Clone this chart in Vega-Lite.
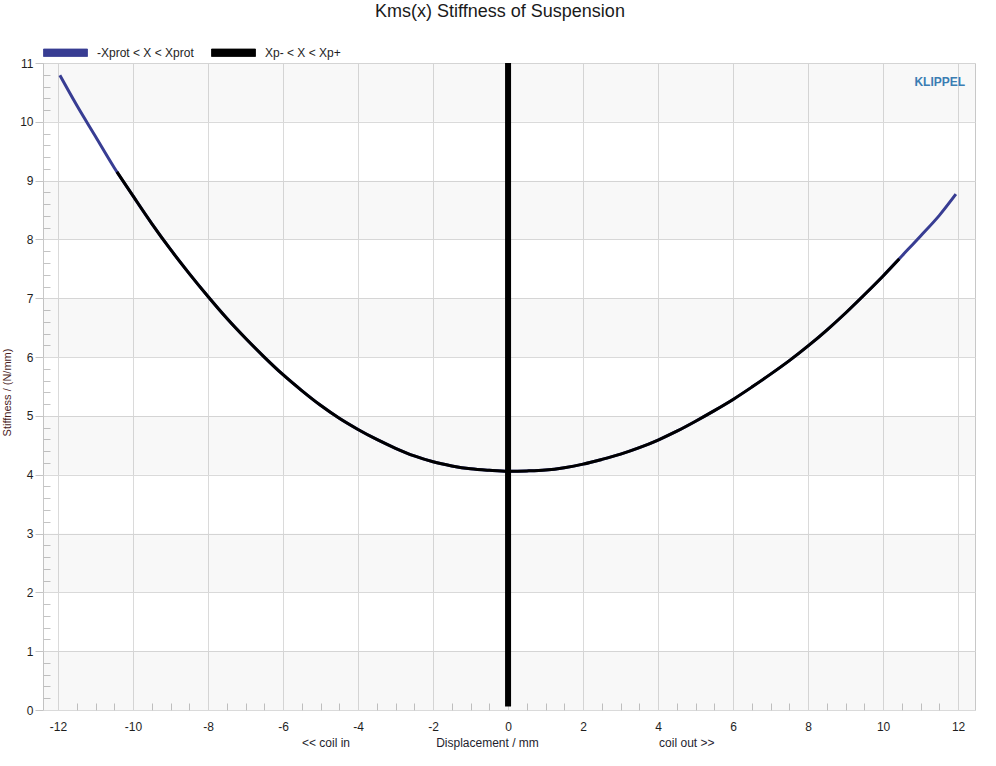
{
  "$schema": "https://vega.github.io/schema/vega-lite/v6.json",
  "width": 932,
  "height": 647,
  "autosize": {"type": "none"},
  "padding": {"left": 43, "top": 63, "right": 21, "bottom": 56},
  "background": "white",
  "title": {
    "text": "Kms(x) Stiffness of Suspension",
    "fontSize": 18,
    "fontWeight": "normal",
    "font": "Liberation Sans",
    "color": "#1a1a1a",
    "anchor": "middle",
    "dx": -9,
    "offset": -5,
    "baseline": "alphabetic"
  },
  "datasets": {
    "bands": [
      {"lo": 0, "hi": 1}, {"lo": 2, "hi": 3}, {"lo": 4, "hi": 5},
      {"lo": 6, "hi": 7}, {"lo": 8, "hi": 9}, {"lo": 10, "hi": 11}
    ],
    "blue": [
      {"x": -11.95, "y": 10.79, "series": "-Xprot < X < Xprot"},
      {"x": -11.5, "y": 10.28, "series": "-Xprot < X < Xprot"},
      {"x": -11, "y": 9.75, "series": "-Xprot < X < Xprot"},
      {"x": -10.5, "y": 9.22, "series": "-Xprot < X < Xprot"},
      {"x": -10, "y": 8.74, "series": "-Xprot < X < Xprot"},
      {"x": -9.5, "y": 8.27, "series": "-Xprot < X < Xprot"},
      {"x": -9, "y": 7.83, "series": "-Xprot < X < Xprot"},
      {"x": -8.5, "y": 7.42, "series": "-Xprot < X < Xprot"},
      {"x": -8, "y": 7.03, "series": "-Xprot < X < Xprot"},
      {"x": -7.5, "y": 6.66, "series": "-Xprot < X < Xprot"},
      {"x": -7, "y": 6.32, "series": "-Xprot < X < Xprot"},
      {"x": -6.5, "y": 6.00, "series": "-Xprot < X < Xprot"},
      {"x": -6, "y": 5.70, "series": "-Xprot < X < Xprot"},
      {"x": -5.5, "y": 5.43, "series": "-Xprot < X < Xprot"},
      {"x": -5, "y": 5.18, "series": "-Xprot < X < Xprot"},
      {"x": -4.5, "y": 4.96, "series": "-Xprot < X < Xprot"},
      {"x": -4, "y": 4.77, "series": "-Xprot < X < Xprot"},
      {"x": -3.5, "y": 4.60, "series": "-Xprot < X < Xprot"},
      {"x": -3, "y": 4.45, "series": "-Xprot < X < Xprot"},
      {"x": -2.5, "y": 4.32, "series": "-Xprot < X < Xprot"},
      {"x": -2, "y": 4.22, "series": "-Xprot < X < Xprot"},
      {"x": -1.5, "y": 4.15, "series": "-Xprot < X < Xprot"},
      {"x": -1, "y": 4.10, "series": "-Xprot < X < Xprot"},
      {"x": -0.5, "y": 4.075, "series": "-Xprot < X < Xprot"},
      {"x": 0, "y": 4.06, "series": "-Xprot < X < Xprot"},
      {"x": 0.5, "y": 4.065, "series": "-Xprot < X < Xprot"},
      {"x": 1, "y": 4.08, "series": "-Xprot < X < Xprot"},
      {"x": 1.5, "y": 4.12, "series": "-Xprot < X < Xprot"},
      {"x": 2, "y": 4.18, "series": "-Xprot < X < Xprot"},
      {"x": 2.5, "y": 4.26, "series": "-Xprot < X < Xprot"},
      {"x": 3, "y": 4.35, "series": "-Xprot < X < Xprot"},
      {"x": 3.5, "y": 4.46, "series": "-Xprot < X < Xprot"},
      {"x": 4, "y": 4.59, "series": "-Xprot < X < Xprot"},
      {"x": 4.5, "y": 4.74, "series": "-Xprot < X < Xprot"},
      {"x": 5, "y": 4.91, "series": "-Xprot < X < Xprot"},
      {"x": 5.5, "y": 5.09, "series": "-Xprot < X < Xprot"},
      {"x": 6, "y": 5.28, "series": "-Xprot < X < Xprot"},
      {"x": 6.5, "y": 5.49, "series": "-Xprot < X < Xprot"},
      {"x": 7, "y": 5.71, "series": "-Xprot < X < Xprot"},
      {"x": 7.5, "y": 5.94, "series": "-Xprot < X < Xprot"},
      {"x": 8, "y": 6.19, "series": "-Xprot < X < Xprot"},
      {"x": 8.5, "y": 6.46, "series": "-Xprot < X < Xprot"},
      {"x": 9, "y": 6.75, "series": "-Xprot < X < Xprot"},
      {"x": 9.5, "y": 7.06, "series": "-Xprot < X < Xprot"},
      {"x": 10, "y": 7.38, "series": "-Xprot < X < Xprot"},
      {"x": 10.5, "y": 7.72, "series": "-Xprot < X < Xprot"},
      {"x": 11, "y": 8.06, "series": "-Xprot < X < Xprot"},
      {"x": 11.5, "y": 8.41, "series": "-Xprot < X < Xprot"},
      {"x": 11.94, "y": 8.77, "series": "-Xprot < X < Xprot"}
    ],
    "black": [
      {"x": -10.43, "y": 9.15, "series": "Xp- < X < Xp+"},
      {"x": -10, "y": 8.74, "series": "Xp- < X < Xp+"},
      {"x": -9.5, "y": 8.27, "series": "Xp- < X < Xp+"},
      {"x": -9, "y": 7.83, "series": "Xp- < X < Xp+"},
      {"x": -8.5, "y": 7.42, "series": "Xp- < X < Xp+"},
      {"x": -8, "y": 7.03, "series": "Xp- < X < Xp+"},
      {"x": -7.5, "y": 6.66, "series": "Xp- < X < Xp+"},
      {"x": -7, "y": 6.32, "series": "Xp- < X < Xp+"},
      {"x": -6.5, "y": 6.00, "series": "Xp- < X < Xp+"},
      {"x": -6, "y": 5.70, "series": "Xp- < X < Xp+"},
      {"x": -5.5, "y": 5.43, "series": "Xp- < X < Xp+"},
      {"x": -5, "y": 5.18, "series": "Xp- < X < Xp+"},
      {"x": -4.5, "y": 4.96, "series": "Xp- < X < Xp+"},
      {"x": -4, "y": 4.77, "series": "Xp- < X < Xp+"},
      {"x": -3.5, "y": 4.60, "series": "Xp- < X < Xp+"},
      {"x": -3, "y": 4.45, "series": "Xp- < X < Xp+"},
      {"x": -2.5, "y": 4.32, "series": "Xp- < X < Xp+"},
      {"x": -2, "y": 4.22, "series": "Xp- < X < Xp+"},
      {"x": -1.5, "y": 4.15, "series": "Xp- < X < Xp+"},
      {"x": -1, "y": 4.10, "series": "Xp- < X < Xp+"},
      {"x": -0.5, "y": 4.075, "series": "Xp- < X < Xp+"},
      {"x": 0, "y": 4.06, "series": "Xp- < X < Xp+"},
      {"x": 0.5, "y": 4.065, "series": "Xp- < X < Xp+"},
      {"x": 1, "y": 4.08, "series": "Xp- < X < Xp+"},
      {"x": 1.5, "y": 4.12, "series": "Xp- < X < Xp+"},
      {"x": 2, "y": 4.18, "series": "Xp- < X < Xp+"},
      {"x": 2.5, "y": 4.26, "series": "Xp- < X < Xp+"},
      {"x": 3, "y": 4.35, "series": "Xp- < X < Xp+"},
      {"x": 3.5, "y": 4.46, "series": "Xp- < X < Xp+"},
      {"x": 4, "y": 4.59, "series": "Xp- < X < Xp+"},
      {"x": 4.5, "y": 4.74, "series": "Xp- < X < Xp+"},
      {"x": 5, "y": 4.91, "series": "Xp- < X < Xp+"},
      {"x": 5.5, "y": 5.09, "series": "Xp- < X < Xp+"},
      {"x": 6, "y": 5.28, "series": "Xp- < X < Xp+"},
      {"x": 6.5, "y": 5.49, "series": "Xp- < X < Xp+"},
      {"x": 7, "y": 5.71, "series": "Xp- < X < Xp+"},
      {"x": 7.5, "y": 5.94, "series": "Xp- < X < Xp+"},
      {"x": 8, "y": 6.19, "series": "Xp- < X < Xp+"},
      {"x": 8.5, "y": 6.46, "series": "Xp- < X < Xp+"},
      {"x": 9, "y": 6.75, "series": "Xp- < X < Xp+"},
      {"x": 9.5, "y": 7.06, "series": "Xp- < X < Xp+"},
      {"x": 10, "y": 7.38, "series": "Xp- < X < Xp+"},
      {"x": 10.43, "y": 7.67, "series": "Xp- < X < Xp+"}
    ],
    "vrule": [{"x": 0, "y": 0.06, "y2": 11}],
    "logo": [{"x": 11.51, "y": 10.67, "t": "KLIPPEL"}]
  },
  "layer": [
    {
      "data": {"name": "bands"},
      "mark": {"type": "rect", "fill": "#000000", "fillOpacity": 0.026},
      "encoding": {
        "y": {
          "field": "lo", "type": "quantitative",
          "scale": {"domain": [0, 11], "nice": false, "zero": false},
          "axis": {
            "orient": "left", "labels": false, "grid": false, "domain": false,
            "ticks": true, "tickSize": -7, "tickColor": "#c4c4c4", "title": null,
            "values": [0.2,0.4,0.6,0.8,1.2,1.4,1.6,1.8,2.2,2.4,2.6,2.8,3.2,3.4,3.6,3.8,4.2,4.4,4.6,4.8,5.2,5.4,5.6,5.8,6.2,6.4,6.6,6.8,7.2,7.4,7.6,7.8,8.2,8.4,8.6,8.8,9.2,9.4,9.6,9.8,10.2,10.4,10.6,10.8]
          }
        },
        "y2": {"field": "hi"}
      }
    },
    {
      "data": {"name": "blue"},
      "mark": {"type": "line", "strokeWidth": 3, "interpolate": "monotone"},
      "encoding": {
        "x": {
          "field": "x", "type": "quantitative",
          "scale": {"domain": [-12.4, 12.45], "nice": false, "zero": false},
          "axis": {
            "orient": "bottom",
            "values": [-12,-10,-8,-6,-4,-2,0,2,4,6,8,10,12],
            "grid": true, "gridColor": "#dadada", "gridWidth": 1,
            "ticks": false, "tickSize": 0, "domain": false,
            "labelPadding": 11, "labelFontSize": 12, "labelColor": "#1e1e1e",
            "labelExpr": "'' + datum.value",
            "title": "Displacement / mm", "titleX": 444, "titleY": 32,
            "titleAlign": "center", "titleBaseline": "middle",
            "titleFontSize": 12, "titleFontWeight": "normal", "titleColor": "#1e1e2e"
          }
        },
        "y": {
          "field": "y", "type": "quantitative",
          "scale": {"domain": [0, 11], "nice": false, "zero": false},
          "axis": {
            "orient": "left",
            "values": [0,1,2,3,4,5,6,7,8,9,10,11],
            "grid": true, "gridColor": "#dadada", "gridWidth": 1,
            "ticks": true, "tickSize": 8, "tickColor": "#c4c4c4", "domain": false,
            "labelPadding": 2, "labelFontSize": 12, "labelColor": "#1e1e1e",
            "labelExpr": "'' + datum.value",
            "title": "Stiffness / (N/mm)", "titleX": -36, "titleY": 329,
            "titleAngle": -90, "titleAlign": "center", "titleBaseline": "middle",
            "titleFontSize": 11, "titleFontWeight": "normal", "titleColor": "#4a1c1c"
          }
        },
        "color": {
          "field": "series", "type": "nominal",
          "scale": {"domain": ["-Xprot < X < Xprot", "Xp- < X < Xp+"], "range": ["#383d93", "#000000"]},
          "legend": {
            "title": null,
            "encode": {
              "symbols": {
                "update": {
                  "fill": {"scale": "color", "field": "value"},
                  "stroke": {"value": "#a0a0a0"},
                  "strokeWidth": {"value": 0.8},
                  "opacity": {"value": 1}
                }
              }
            }
          }
        }
      }
    },
    {
      "data": {"name": "black"},
      "mark": {"type": "line", "strokeWidth": 3, "interpolate": "monotone"},
      "encoding": {
        "x": {
          "field": "x", "type": "quantitative",
          "axis": {
            "orient": "bottom", "labels": false, "ticks": false, "grid": false, "domain": false,
            "title": "<< coil in", "titleX": 282.5, "titleY": 32,
            "titleAlign": "center", "titleBaseline": "middle",
            "titleFontSize": 12, "titleFontWeight": "normal", "titleColor": "#1e1e2e"
          }
        },
        "y": {"field": "y", "type": "quantitative", "axis": null},
        "color": {"field": "series", "type": "nominal"}
      }
    },
    {
      "data": {"name": "vrule"},
      "mark": {"type": "rule", "strokeWidth": 6, "color": "#000000"},
      "encoding": {
        "x": {
          "field": "x", "type": "quantitative",
          "axis": {
            "orient": "bottom", "labels": false, "grid": false, "domain": false,
            "ticks": true, "tickSize": -7, "tickColor": "#c4c4c4", "title": null,
            "values": [-11.5,-11,-10.5,-9.5,-9,-8.5,-7.5,-7,-6.5,-5.5,-5,-4.5,-3.5,-3,-2.5,-1.5,-1,-0.5,0.5,1,1.5,2.5,3,3.5,4.5,5,5.5,6.5,7,7.5,8.5,9,9.5,10.5,11,11.5]
          }
        },
        "y": {"field": "y", "type": "quantitative", "axis": null},
        "y2": {"field": "y2"}
      }
    },
    {
      "data": {"name": "logo"},
      "mark": {"type": "text", "fontSize": 12, "fontWeight": "bold", "font": "Liberation Sans", "color": "#3b7db3", "align": "center", "baseline": "middle"},
      "encoding": {
        "x": {
          "field": "x", "type": "quantitative",
          "axis": {
            "orient": "bottom", "labels": false, "ticks": false, "grid": false, "domain": false,
            "title": "coil out >>", "titleX": 643.3, "titleY": 32,
            "titleAlign": "center", "titleBaseline": "middle",
            "titleFontSize": 12, "titleFontWeight": "normal", "titleColor": "#1e1e2e"
          }
        },
        "y": {"field": "y", "type": "quantitative", "axis": null},
        "text": {"field": "t"}
      }
    }
  ],
  "resolve": {
    "scale": {"x": "shared", "y": "shared", "color": "shared"},
    "axis": {"x": "independent", "y": "independent"}
  },
  "config": {
    "font": "Liberation Sans",
    "view": {"stroke": "#c8c8c8", "strokeWidth": 1},
    "axis": {"labelFont": "Liberation Sans", "titleFont": "Liberation Sans", "domain": false},
    "legend": {
      "orient": "none",
      "legendX": 0,
      "legendY": -33,
      "direction": "horizontal",
      "symbolType": "M-1,-0.17H1V0.17H-1Z",
      "symbolSize": 1936,
      "labelFontSize": 12,
      "labelFont": "Liberation Sans",
      "labelColor": "#1e1e1e",
      "labelOffset": 9,
      "columnPadding": 15,
      "padding": 0
    }
  }
}
